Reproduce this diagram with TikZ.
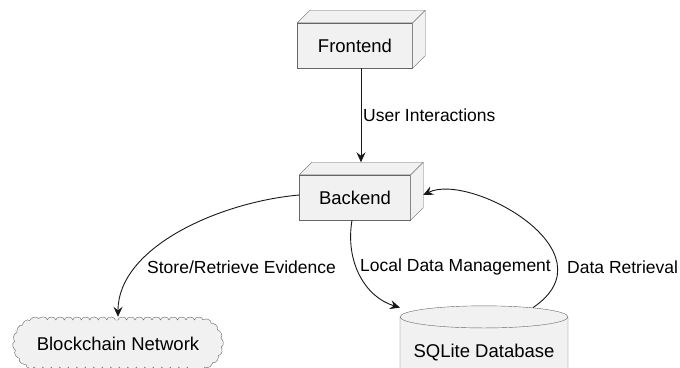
\documentclass[tikz,border=0pt]{standalone}
\usepackage{fontspec}
\setmainfont{Liberation Sans}
\usetikzlibrary{positioning}
\usetikzlibrary{arrows.meta}
\usetikzlibrary{shapes.geometric,shapes.misc,decorations.pathmorphing}

\definecolor{boxfill}{HTML}{F1F1F1}
\definecolor{boxline}{HTML}{666666}
\definecolor{edgeline}{HTML}{181818}

% top and side faces of a node box
\newcommand\extrude[1]{%
  \filldraw[draw=boxline,fill=boxfill] (#1.north west) -- ++(12.5,12.5)
    -- ([shift={(12.5,12.5)}]#1.north east) -- ([shift={(12.5,12.5)}]#1.south east)
    -- (#1.south east) -- (#1.north east) -- cycle;
  \draw[boxline] (#1.north east) -- ++(12.5,12.5);}

\begin{document}
\begin{tikzpicture}[x=1pt,y=1pt,
  box/.style={draw=boxline,fill=boxfill,minimum height=45pt,inner sep=0pt,font=\nodefont},
  lab/.style={font=\labfont,inner sep=0pt,anchor=west},
  edge/.style={draw=edgeline,line width=0.9pt,-{Stealth[length=10pt,width=9pt,inset=3.5pt]}},
  puffs/.style={rounded rectangle,draw=boxline,fill=boxfill,decorate,
    decoration={bumps,segment length=17pt,amplitude=3pt}}]

\def\nodefont{\fontsize{18.5}{22}\selectfont}
\def\labfont{\fontsize{17.5}{21}\selectfont}

\useasboundingbox (0,0) rectangle (680,367);

\node[box,minimum width=115pt] (frontend) at (355,321.5) {Frontend};
\extrude{frontend}
\node[box,minimum width=111pt] (backend) at (355,169.5) {Backend};
\extrude{backend}

\node[puffs,font=\nodefont,minimum width=204pt,minimum height=47pt,inner sep=0pt] (chain) at (118,23.5) {Blockchain Network};
\node[cylinder,shape border rotate=90,draw=boxline,fill=boxfill,aspect=0.15,
  minimum width=168pt,minimum height=80pt,font=\nodefont] (db) at (484,14) {SQLite Database};

\draw[edge] ([xshift=6pt]frontend.south) -- ([xshift=6pt,yshift=12.5pt]backend.north);
\node[lab] (lui) at (363,252) {User Interactions};

\draw[edge] ([yshift=2.5pt]backend.west) .. controls (220,165) and (118,120) .. ([yshift=3pt]chain.north);
\node[lab] (lstore) at (147,100) {Store/Retrieve Evidence};

\draw[edge] ([xshift=-3pt]backend.south) .. controls (345,105) and (365,70) .. ([xshift=-84pt,yshift=-2pt]db.north);
\node[lab] (llocal) at (360,100) {Local Data Management};

\draw[edge] ([xshift=49pt,yshift=-2pt]db.north) .. controls (615,115) and (470,195)
  .. ([xshift=12.5pt,yshift=2.5pt]backend.east);
\node[lab] (lget) at (567,100) {Data Retrieval};
\end{tikzpicture}
\end{document}
